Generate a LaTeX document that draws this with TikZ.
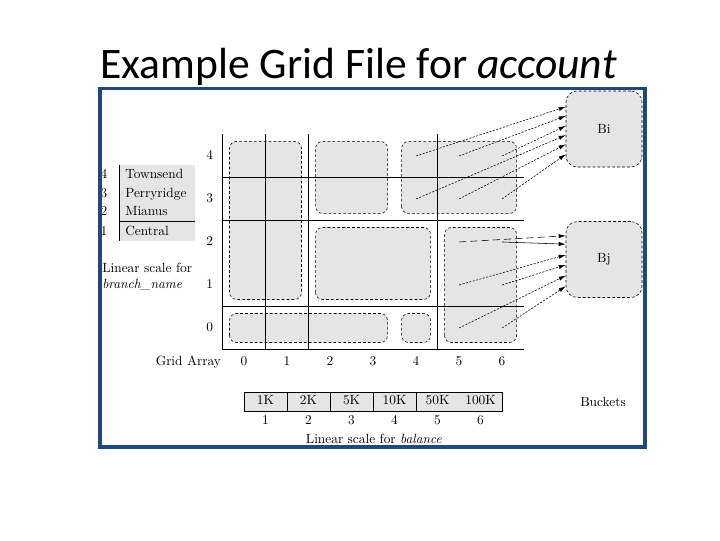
\documentclass[tikz,border=0pt]{standalone}
\usepackage{fontspec}
\newfontfamily\titlefont{Carlito}
\usetikzlibrary{arrows.meta,positioning,calc}
\definecolor{frameblue}{RGB}{31,73,125}
\definecolor{regiongray}{RGB}{229,229,229}

\begin{document}
\begin{tikzpicture}[x=0.025cm, y=-0.025cm,
    lbl/.style={font=\fontsize{9.5}{11}\selectfont, inner sep=0pt, text height=6.8pt, text depth=1.9pt},
    region/.style={draw, fill=regiongray, dash pattern=on 2pt off 1.5pt, line width=0.4pt, rounded corners=5pt},
    bucket/.style={draw, fill=regiongray, dash pattern=on 2pt off 1.5pt, line width=0.4pt, rounded corners=8pt,
        minimum width=1.9cm, minimum height=1.9cm, font=\fontsize{9.5}{11}\selectfont},
    dotarrow/.style={-{Latex[length=5pt,width=3pt]}, dash pattern=on 1.5pt off 1pt, line width=0.4pt},
    gridline/.style={line width=0.7pt}]

    \fill[white] (0,0) rectangle (720,540);
    \useasboundingbox (0,0) rectangle (720,540);

    \node[font=\titlefont\fontsize{31}{36}\selectfont, anchor=base west, inner sep=0pt] (title) at (100,78) {Example Grid File for \textit{account}};

    % buckets
    \node[bucket] (bi) at (604,129) {Bi};
    \node[bucket] (bj) at (604,259.5) {Bj};
    \node[lbl] (buckets) at (603,403) {Buckets};

    % linear scale for branch_name
    \fill[regiongray] (119,165) rectangle (195,241);
    \draw[gridline] (119,165) -- (119,241);
    \draw[gridline] (119,221.5) -- (195,221.5);
    \foreach \n/\name/\y in {4/Townsend/175, 3/Perryridge/194, 2/Mianus/212.5, 1/Central/232} {
        \node[lbl, anchor=west] (br\n) at (125,\y) {\name};
        \node[lbl] (brn\n) at (104,\y) {\n};
    }
    \node[lbl, anchor=west] (brscale) at (102,269) {Linear scale for};
    \node[lbl, anchor=west] (brname) at (102,285) {\textit{branch\_name}};

    \begin{scope}[shift={(222.5,349.5)}, x=1.075cm, y=1.075cm]
        % regions of the grid
        \foreach \xa/\ya/\xb/\yb in {0/1/2/5, 2/3/4/5, 4/3/7/5, 2/1/5/3, 5/0/7/3, 0/0/4/1, 4/0/5/1}
            \draw[region] (\xa+0.163,\ya+0.163) rectangle (\xb-0.163,\yb-0.163);

        % grid array
        \draw[gridline] (0,5) -- (0,0) -- (7,0);
        \foreach \x in {1,2,5} \draw[gridline] (\x,0) -- (\x,5);
        \foreach \y in {1,3,4} \draw[gridline] (0,\y) -- (7,\y);

        \foreach \r in {0,...,4} \node[lbl] (row\r) at (-0.3,\r+0.5) {\r};
        \foreach \c in {0,...,6} \node[lbl] (col\c) at (\c+0.5,-0.29) {\c};
        \node[lbl, anchor=east] (gridarray) at (-0.03,-0.29) {Grid Array};

        \foreach \c in {0,...,6}
            \foreach \r in {0,...,4}
                \coordinate (c\c\r) at (\c+0.5,\r+0.5);

        % pointers to buckets
        \foreach \c/\r/\f in {4/4/0.21, 5/4/0.33, 6/4/0.46, 4/3/0.58, 5/3/0.70, 6/3/0.83}
            \draw[dotarrow] (c\c\r) -- ($(bi.north west)!\f!(bi.south west)$);
        \draw[dotarrow, dash pattern=on 5pt off 3pt] (c52) -- ($(bj.north west)!0.19!(bj.south west)$);
        \draw[dotarrow, solid] (c62) -- ($(bj.north west)!0.30!(bj.south west)$);
        \foreach \c/\r/\f in {5/1/0.44, 6/1/0.57, 5/0/0.71, 6/0/0.85}
            \draw[dotarrow] (c\c\r) -- ($(bj.north west)!\f!(bj.south west)$);

        % linear scale for balance
        \draw[gridline, fill=regiongray] (0.5,-0.99) rectangle (6.5,-1.43);
        \foreach \x in {1.5,2.5,3.5,4.5} \draw[gridline] (\x,-0.99) -- (\x,-1.43);
        \foreach \v [count=\i] in {1K,2K,5K,10K,50K,100K} {
            \node[lbl] (bal\i) at (\i,-1.21) {\v};
            \node[lbl] (num\i) at (\i,-1.66) {\i};
        }
        \node[lbl] (balscale) at (3.52,-2.1) {Linear scale for \textit{balance}};
    \end{scope}

    \draw[frameblue, line width=2.8pt] (100,88.5) rectangle (645,447);
\end{tikzpicture}
\end{document}
